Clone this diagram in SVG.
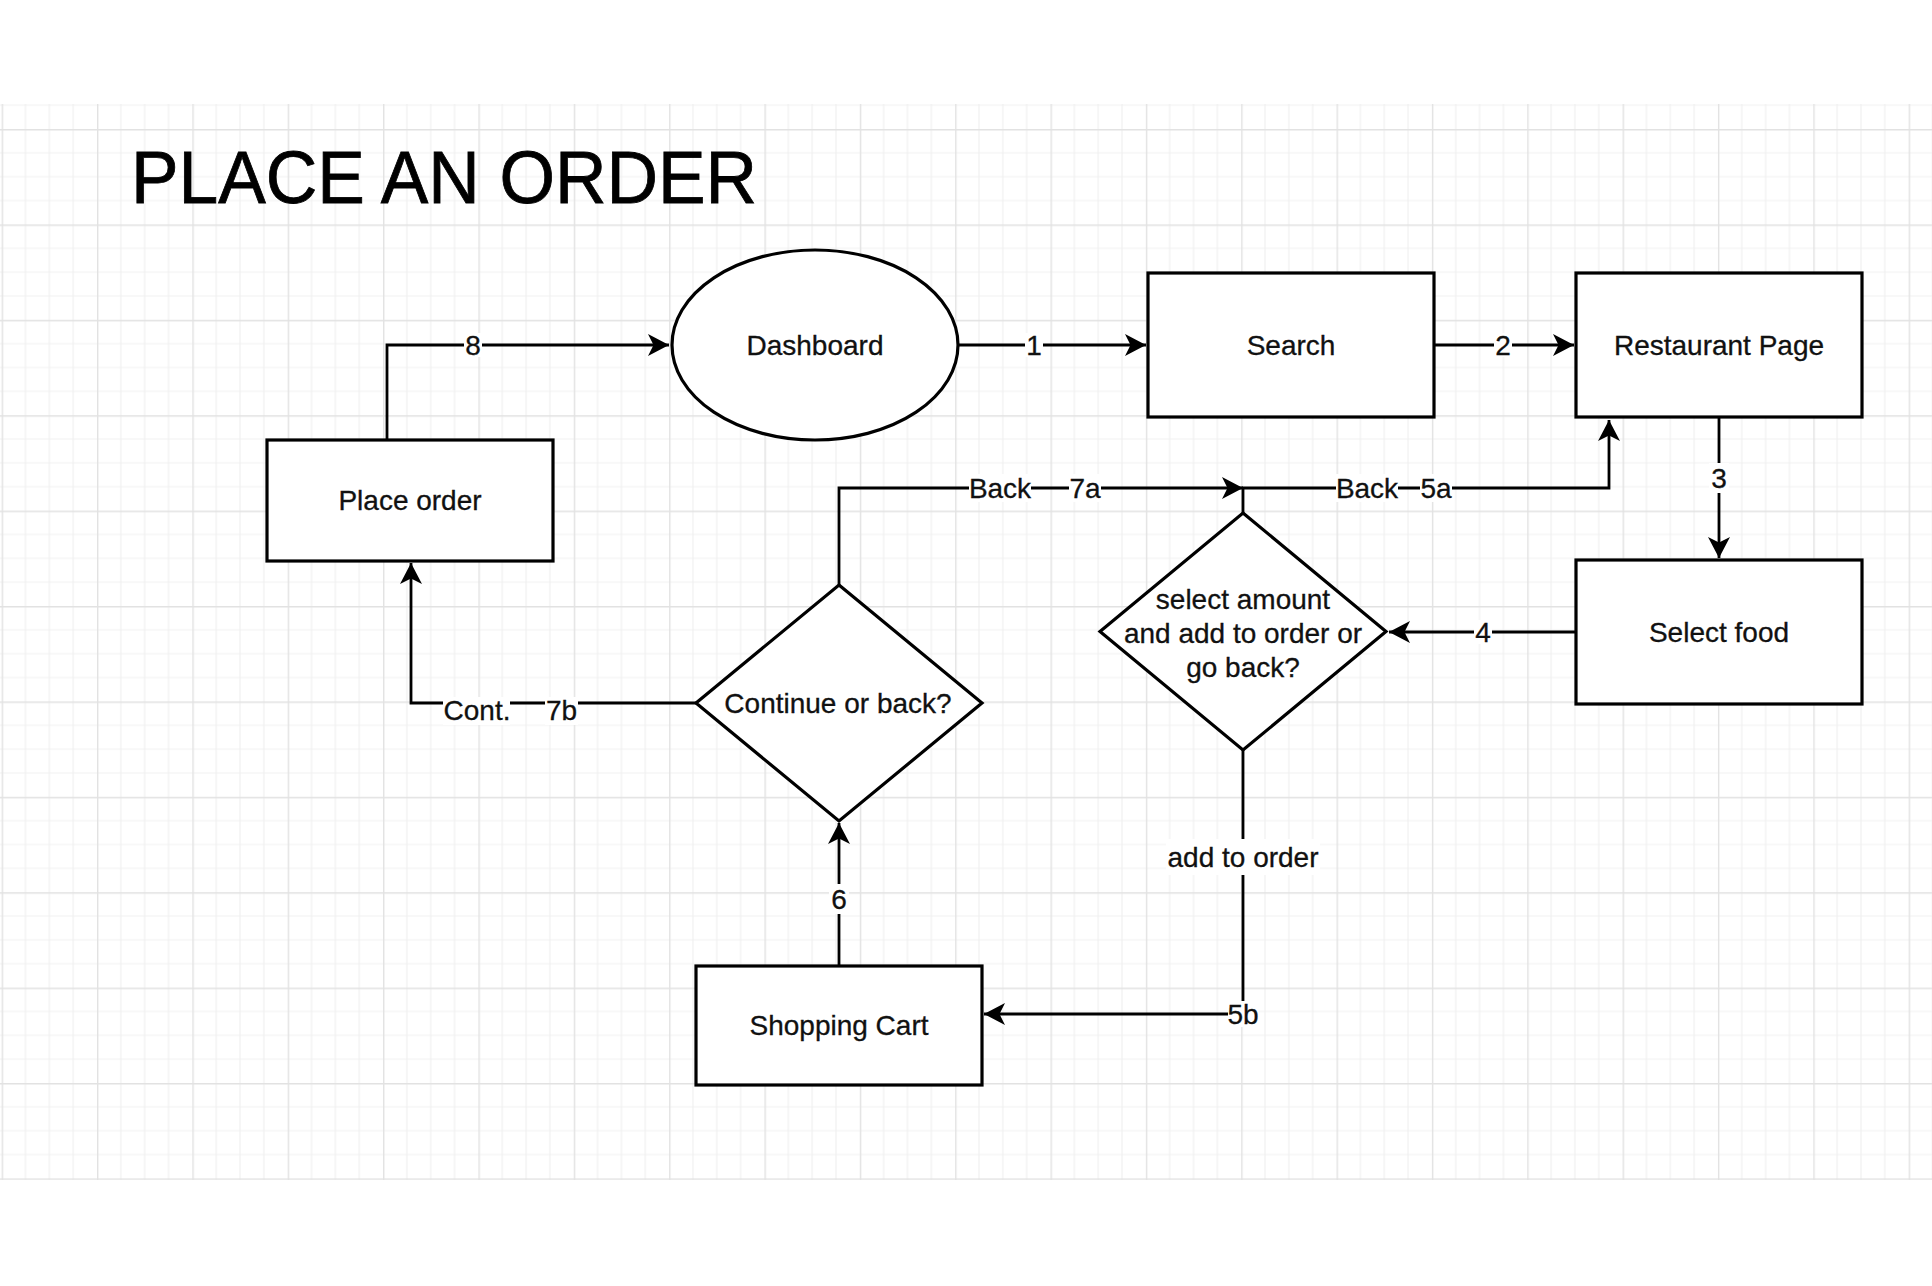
<svg xmlns="http://www.w3.org/2000/svg" width="1932" height="1286" viewBox="0 0 1932 1286">
<style>
.node{fill:#ffffff;stroke:#000000;stroke-width:3.2}
.edge{fill:none;stroke:#000000;stroke-width:2.8}
.lbl{font-family:"Liberation Sans",Arial,Helvetica,sans-serif;font-size:28px;fill:#111111;stroke:#111111;stroke-width:0.3;text-anchor:middle}
.bg{fill:#ffffff}
.title{font-family:"Liberation Sans",Arial,Helvetica,sans-serif;font-size:74px;fill:#000000;stroke:#000000;stroke-width:0.8}
</style>
<defs>
<pattern id="grid" patternUnits="userSpaceOnUse" x="1.65" y="33.6" width="95.35" height="95.4">
<rect x="0" y="0" width="95.35" height="95.4" fill="#ffffff"/>
<path d="M23.84,0 V95.4 M47.68,0 V95.4 M71.51,0 V95.4 M0,23.85 H95.35 M0,47.7 H95.35 M0,71.55 H95.35" stroke="#f1f1f1" stroke-width="1.2" fill="none"/>
<path d="M0.6,0 V95.4 M0,0.6 H95.35" stroke="#e2e2e2" stroke-width="1.6" fill="none"/>
</pattern>
<marker id="arrow" markerUnits="userSpaceOnUse" markerWidth="24" markerHeight="24" refX="21" refY="11" orient="auto" viewBox="0 0 24 24">
<path d="M0,0 L21,11 L0,22 L5.5,11 Z" fill="#000000"/>
</marker>
</defs>
<rect x="0" y="0" width="1932" height="1286" fill="#ffffff"/>
<rect x="0" y="104" width="1932" height="1076" fill="url(#grid)"/>
<text class="title" x="131" y="203" textLength="626" lengthAdjust="spacingAndGlyphs">PLACE AN ORDER</text>

<g id="connectors">
<path id="e8" class="edge" d="M387,440 V345 H669" marker-end="url(#arrow)"/>
<path id="e1" class="edge" d="M958,345 H1146" marker-end="url(#arrow)"/>
<path id="e2" class="edge" d="M1434,345 H1574" marker-end="url(#arrow)"/>
<path id="e3" class="edge" d="M1719,417 V558" marker-end="url(#arrow)"/>
<path id="e4" class="edge" d="M1576,632 H1389" marker-end="url(#arrow)"/>
<path id="e5a" class="edge" d="M1243,513 V488 H1609 V420" marker-end="url(#arrow)"/>
<path id="e7a" class="edge" d="M839,585 V488 H1243" marker-end="url(#arrow)"/>
<path id="e7b" class="edge" d="M696,703 H411 V563" marker-end="url(#arrow)"/>
<path id="e5b" class="edge" d="M1243,750 V1014 H984" marker-end="url(#arrow)"/>
<path id="e6" class="edge" d="M839,966 V823" marker-end="url(#arrow)"/>
<g id="edge-labels">
<rect class="bg" x="464" y="333" width="18" height="24"/><text class="lbl" x="473" y="355">8</text>
<rect class="bg" x="1025" y="333" width="18" height="24"/><text class="lbl" x="1034" y="355">1</text>
<rect class="bg" x="1494" y="333" width="18" height="24"/><text class="lbl" x="1503" y="355">2</text>
<rect class="bg" x="1709" y="463" width="20" height="30"/><text class="lbl" x="1719" y="488">3</text>
<rect class="bg" x="1474" y="620" width="18" height="24"/><text class="lbl" x="1483" y="642">4</text>
<rect class="bg" x="1336" y="474" width="62" height="28"/><text class="lbl" x="1367" y="498">Back</text>
<rect class="bg" x="1420" y="474" width="32" height="28"/><text class="lbl" x="1436" y="498">5a</text>
<rect class="bg" x="969" y="474" width="62" height="28"/><text class="lbl" x="1000" y="498">Back</text>
<rect class="bg" x="1069" y="474" width="32" height="28"/><text class="lbl" x="1085" y="498">7a</text>
<rect class="bg" x="443" y="697" width="67" height="28"/><text class="lbl" x="477" y="720">Cont.</text>
<rect class="bg" x="545" y="697" width="33" height="28"/><text class="lbl" x="561.5" y="720">7b</text>
<rect class="bg" x="829" y="884" width="20" height="30"/><text class="lbl" x="839" y="909">6</text>
<rect class="bg" x="1166" y="839" width="154" height="36"/><text class="lbl" x="1243" y="867">add to order</text>
<rect class="bg" x="1228" y="1001" width="31" height="26"/><text class="lbl" x="1243" y="1024">5b</text>
</g>
</g>

<g id="dashboard">
<ellipse class="node" cx="815" cy="345" rx="143" ry="95"/>
<text class="lbl" x="815" y="355">Dashboard</text>
</g>
<g id="search">
<rect class="node" x="1148" y="273" width="286" height="144"/>
<text class="lbl" x="1291" y="355">Search</text>
</g>
<g id="restaurant-page">
<rect class="node" x="1576" y="273" width="286" height="144"/>
<text class="lbl" x="1719" y="355">Restaurant Page</text>
</g>
<g id="select-food">
<rect class="node" x="1576" y="560" width="286" height="144"/>
<text class="lbl" x="1719" y="642">Select food</text>
</g>
<g id="select-amount">
<polygon class="node" points="1243,513 1386,631.5 1243,750 1100,631.5"/>
<text class="lbl" x="1243" y="609">select amount</text>
<text class="lbl" x="1243" y="643">and add to order or</text>
<text class="lbl" x="1243" y="677">go back?</text>
</g>
<g id="continue-or-back">
<polygon class="node" points="839,585 982,703 839,821 696,703"/>
<text class="lbl" x="838" y="713">Continue or back?</text>
</g>
<g id="place-order">
<rect class="node" x="267" y="440" width="286" height="121"/>
<text class="lbl" x="410" y="510">Place order</text>
</g>
<g id="shopping-cart">
<rect class="node" x="696" y="966" width="286" height="119"/>
<text class="lbl" x="839" y="1035">Shopping Cart</text>
</g>
</svg>
